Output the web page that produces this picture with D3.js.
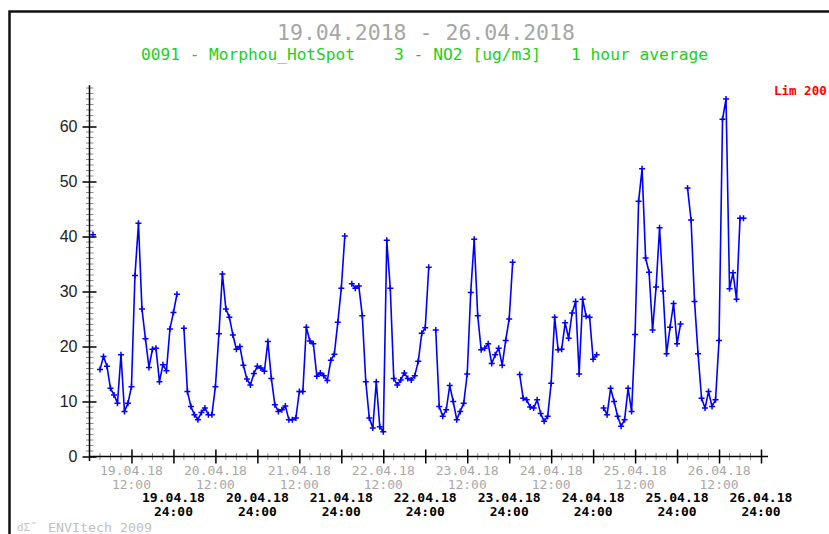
<!DOCTYPE html>
<html>
<head>
<meta charset="utf-8">
<script src="https://cdn.jsdelivr.net/npm/d3@7"></script>
<style>
  html, body { margin: 0; padding: 0; background: #fff; }
  svg { display: block; }
</style>
</head>
<body>
<svg id="chart" width="829" height="534"></svg>
<script>
// ---- Data: hourly NO2 averages [ug/m3], starting 19.04.2018 00:00 (null = no measurement)
const startTime = "2018-04-19T00:00:00Z";
const no2 = [
  null, 40.3, null, 15.8, 18.2, 16.4, 12.4, 11.2, 9.7, 18.5, 8.2, 9.7,
  12.7, 32.9, 42.4, 26.8, 21.4, 16.2, 19.5, 19.7, 13.6, 16.7, 15.6, 23.2,
  26.2, 29.5, null, 23.3, 11.8, 9.1, 7.6, 6.7, 8.0, 8.8, 7.6, 7.6,
  12.7, 22.3, 33.2, 26.8, 25.3, 22.1, 19.5, 20.0, 16.6, 14.1, 13.0, 15.1,
  16.4, 16.1, 15.5, 20.9, 14.2, 9.4, 8.2, 8.5, 9.2, 6.7, 6.7, 7.0,
  11.8, 11.8, 23.5, 21.0, 20.5, 14.6, 15.2, 14.7, 13.8, 17.5, 18.6, 24.4,
  30.6, 40.1, null, 31.4, 30.6, 31.0, 25.6, 13.6, 7.0, 5.2, 13.6, 5.4,
  4.5, 39.3, 30.6, 14.2, 13.0, 13.9, 15.2, 14.2, 13.9, 14.7, 17.3, 22.4,
  23.4, 34.4, null, 23.0, 9.1, 7.3, 8.5, 12.9, 10.0, 6.7, 8.2, 9.7,
  15.0, 29.8, 39.5, 25.6, 19.4, 19.7, 20.5, 16.9, 18.5, 19.7, 16.6, 21.1,
  25.0, 35.3, null, 14.9, 10.6, 10.3, 9.0, 8.8, 10.3, 7.8, 6.4, 7.3,
  13.3, 25.3, 19.4, 19.5, 24.3, 21.5, 26.1, 28.2, 15.0, 28.6, 25.5, 25.3,
  17.7, 18.5, null, 8.8, 7.6, 12.4, 10.0, 7.3, 5.5, 6.7, 12.4, 8.2,
  22.2, 46.4, 52.3, 36.1, 33.5, 23.0, 30.8, 41.6, 30.1, 18.7, 23.5, 27.8,
  20.5, 24.1, null, 48.8, 43.0, 28.2, 18.7, 10.6, 8.8, 11.8, 9.1, 10.3,
  21.1, 61.3, 65.0, 30.5, 33.4, 28.6, 43.3, 43.3
];

// ---- Axis / text content
const yTickValues = [0, 10, 20, 30, 40, 50, 60];
const dayLabels = ["19.04.18", "20.04.18", "21.04.18", "22.04.18",
                   "23.04.18", "24.04.18", "25.04.18", "26.04.18"];
const noonLabel = "12:00";
const midnightLabel = "24:00";
const titleText = "19.04.2018 - 26.04.2018";
const subtitleParts = ["0091 - Morphou_HotSpot", "3 - NO2 [ug/m3]", "1 hour average"];
const limitText = "Lim 200";
const footerText = "ENVItech 2009";
const daysShown = 8;

// ---- Setup
const HOUR = 3600 * 1000;
const t0 = new Date(startTime);
const tEnd = new Date(+t0 + daysShown * 24 * HOUR);
const points = no2.map((v, i) => ({ t: new Date(+t0 + i * HOUR), v }));

const svg = d3.select("#chart");
const mono = "'DejaVu Sans Mono', 'Liberation Mono', monospace";

const x = d3.scaleUtc().domain([t0, tEnd]).range([89.5, 761]);
const y = d3.scaleLinear().domain([0, 60]).range([456.5, 126.5]);
const yTop = 67.5;

// ---- Frame
svg.append("path")
  .attr("d", "M9.5,534 V11.5 H829")
  .attr("fill", "none")
  .attr("stroke", "#111")
  .attr("stroke-width", 2.5);

// ---- Titles
svg.append("text")
  .attr("x", 426).attr("y", 40)
  .attr("text-anchor", "middle")
  .attr("font-family", mono).attr("font-size", 21)
  .attr("textLength", 298).attr("lengthAdjust", "spacingAndGlyphs")
  .attr("fill", "#a6a6a6")
  .text(titleText);

const subX = [141, 394, 571];
const subW = [214, 147, 137];
svg.append("g").selectAll("text")
  .data(subtitleParts)
  .join("text")
  .attr("x", (d, i) => subX[i]).attr("y", 60)
  .attr("font-family", mono).attr("font-size", 16)
  .attr("textLength", (d, i) => subW[i]).attr("lengthAdjust", "spacingAndGlyphs")
  .attr("fill", "#19d219")
  .text(d => d);

svg.append("text")
  .attr("x", 774).attr("y", 95)
  .attr("font-family", mono).attr("font-size", 12.5).attr("font-weight", "bold")
  .attr("fill", "#ff0000")
  .text(limitText);

// ---- Y axis
const yMinor = d3.range(1, Math.floor(yTop) + 1).filter(v => v % 10 !== 0);
svg.append("g").selectAll("line")
  .data(yMinor)
  .join("line")
  .attr("x1", 86).attr("x2", 93.5)
  .attr("y1", d => y(d)).attr("y2", d => y(d))
  .attr("stroke", "#8c8c8c").attr("stroke-width", 1);

const yAxis = svg.append("g")
  .attr("transform", "translate(89.5,0)")
  .call(d3.axisLeft(y).tickValues(yTickValues).tickSize(7).tickPadding(5));
yAxis.select(".domain").remove();
yAxis.selectAll(".tick line").attr("x1", -7).attr("x2", 7)
  .attr("stroke", "#000").attr("stroke-width", 1.5);
yAxis.selectAll(".tick text")
  .attr("font-family", "'Liberation Sans', Arial, sans-serif")
  .attr("font-size", 16).attr("fill", "#222");
svg.append("line")
  .attr("x1", 89.5).attr("x2", 89.5)
  .attr("y1", y(yTop)).attr("y2", 461)
  .attr("stroke", "#000").attr("stroke-width", 1.5);

// ---- X axis
const majorTicks = d3.range(1, daysShown * 2 + 1).map(k => new Date(+t0 + k * 12 * HOUR));
const minorTicks = d3.range(3, daysShown * 24, 3)
  .filter(h => h % 12 !== 0)
  .map(h => new Date(+t0 + h * HOUR));

svg.append("g").selectAll("line")
  .data(minorTicks)
  .join("line")
  .attr("x1", d => x(d)).attr("x2", d => x(d))
  .attr("y1", 453).attr("y2", 460)
  .attr("stroke", "#8c8c8c").attr("stroke-width", 1);

const xAxis = svg.append("g")
  .attr("transform", "translate(0,456.5)")
  .call(d3.axisBottom(x).tickValues(majorTicks).tickSize(7).tickFormat(""));
xAxis.select(".domain").remove();
xAxis.selectAll(".tick line").attr("y1", -7).attr("y2", 7)
  .attr("stroke", "#000").attr("stroke-width", 1.5);
svg.append("line")
  .attr("x1", 89.5).attr("x2", 768)
  .attr("y1", 456.5).attr("y2", 456.5)
  .attr("stroke", "#000").attr("stroke-width", 1.5);

// Date/time labels: noon in grey, midnight in bold black
const noonTicks = dayLabels.map((d, i) => ({ label: d, t: new Date(+t0 + (i * 24 + 12) * HOUR) }));
const midTicks = dayLabels.map((d, i) => ({ label: d, t: new Date(+t0 + (i + 1) * 24 * HOUR) }));
const labelSize = 11.5;
const dateW = 63, timeW = 39;

const noonG = svg.append("g").attr("font-family", mono).attr("font-size", labelSize)
  .attr("fill", "#a8a8a8").attr("text-anchor", "middle");
noonG.selectAll("text.d").data(noonTicks).join("text").attr("class", "d")
  .attr("x", d => x(d.t)).attr("y", 475)
  .attr("textLength", dateW).attr("lengthAdjust", "spacingAndGlyphs")
  .text(d => d.label);
noonG.selectAll("text.h").data(noonTicks).join("text").attr("class", "h")
  .attr("x", d => x(d.t)).attr("y", 488.5)
  .attr("textLength", timeW).attr("lengthAdjust", "spacingAndGlyphs")
  .text(noonLabel);

const midG = svg.append("g").attr("font-family", mono).attr("font-size", labelSize)
  .attr("font-weight", "bold").attr("fill", "#000").attr("text-anchor", "middle");
midG.selectAll("text.d").data(midTicks).join("text").attr("class", "d")
  .attr("x", d => x(d.t)).attr("y", 502)
  .attr("textLength", dateW).attr("lengthAdjust", "spacingAndGlyphs")
  .text(d => d.label);
midG.selectAll("text.h").data(midTicks).join("text").attr("class", "h")
  .attr("x", d => x(d.t)).attr("y", 515.5)
  .attr("textLength", timeW).attr("lengthAdjust", "spacingAndGlyphs")
  .text(midnightLabel);

// ---- Series line with '+' markers
const line = d3.line()
  .defined(d => d.v != null)
  .x(d => x(d.t))
  .y(d => y(d.v));

svg.append("path")
  .datum(points)
  .attr("d", line)
  .attr("fill", "none")
  .attr("stroke", "#0000ff")
  .attr("stroke-width", 1.6)
  .attr("stroke-linejoin", "round");

svg.append("g").selectAll("path")
  .data(points.filter(d => d.v != null))
  .join("path")
  .attr("transform", d => `translate(${x(d.t)},${y(d.v)})`)
  .attr("d", "M-3,0H3M0,-3V3")
  .attr("stroke", "#0000ff")
  .attr("stroke-width", 1.5);

// ---- Footer
svg.append("text")
  .attr("x", 17).attr("y", 531)
  .attr("font-family", mono).attr("font-size", 11)
  .attr("fill", "#c4c4c4")
  .text("dΣ˝");
svg.append("text")
  .attr("x", 48).attr("y", 532)
  .attr("font-family", mono).attr("font-size", 13)
  .attr("textLength", 104).attr("lengthAdjust", "spacingAndGlyphs")
  .attr("fill", "#c0c0c0")
  .text(footerText);
</script>
</body>
</html>
